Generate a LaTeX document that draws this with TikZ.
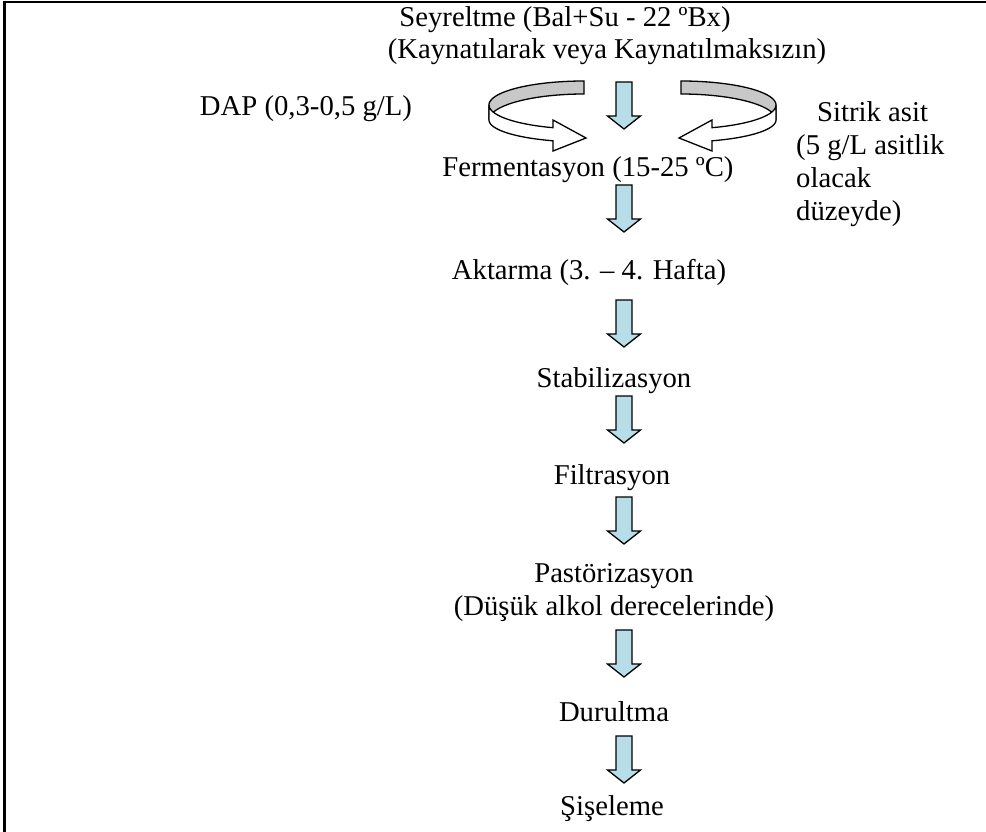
\documentclass[tikz,border=0pt]{standalone}
\usepackage{fontspec}
\setmainfont{Liberation Serif}
\definecolor{arrowblue}{RGB}{183,222,232}
\definecolor{ribbongray}{RGB}{200,200,200}
\tikzset{
  txt/.style={inner sep=0pt, anchor=base, font=\fontsize{28.7}{33}\selectfont},
  txtl/.style={txt, anchor=base west},
  outl/.style={draw=black, line width=1.3pt, line join=miter},
  darr/.pic={\path[outl, fill=arrowblue] (-8,0) -- (8,0) -- (8,34) -- (16.5,34) -- (0,47) -- (-16.5,34) -- (-8,34) -- cycle;}
}
\begin{document}
\begin{tikzpicture}[x=1pt,y=-1pt]
\useasboundingbox (0,0) rectangle (986,832);
% frame
\draw[line width=2.6pt] (3.4,2.2) -- (986,2.2);
\draw[line width=2.6pt] (4.7,0.9) -- (4.7,832);
% texts
\node[txt] (s1) at (565,27) {Seyreltme (Bal+Su - 22 ºBx)};
\node[txt] (s2) at (607,59) {(Kaynatılarak veya Kaynatılmaksızın)};
\node[txt] (dap) at (306,116) {DAP (0,3-0,5 g/L)};
\node[txtl] (sa1) at (817,122) {Sitrik asit};
\node[txtl] (sa2) at (796,155) {(5 g/L asitlik};
\node[txtl] (sa3) at (796,188) {olacak};
\node[txtl] (sa4) at (796,221) {düzeyde)};
\node[txt] (ferm) at (588,177) {Fermentasyon (15-25 ºC)};
\node[txt] (akt) at (589,279) {Aktarma (3. – 4. Hafta)};
\node[txt] (stab) at (614,387) {Stabilizasyon};
\node[txt] (filt) at (612,484) {Filtrasyon};
\node[txt] (past) at (614,582) {Pastörizasyon};
\node[txt] (past2) at (614,615) {(Düşük alkol derecelerinde)};
\node[txt] (durl) at (614,721) {Durultma};
\node[txt] (sise) at (612,815) {Şişeleme};
% down block arrows
\foreach \yy in {82,185,300,396,497,630,736} \pic at (624,\yy) {darr};
% left circular arrow
\path[outl, fill=ribbongray] plot[domain=90:180,samples=40] ({584+95*cos(\x)},{105-24*sin(\x)})
  -- plot[domain=180:90,samples=40] ({584+95*cos(\x)},{120-26*sin(\x)}) -- cycle;
\path[outl, fill=white] plot[domain=180:251,samples=40] ({584+95*cos(\x)},{105-24*sin(\x)})
  -- (553,120) -- (586,138) -- (553,151)
  -- plot[domain=251:180,samples=40] ({584+95*cos(\x)},{120-22*sin(\x)}) -- cycle;
% right circular arrow
\path[outl, fill=ribbongray] plot[domain=90:180,samples=40] ({681-95*cos(\x)},{105-24*sin(\x)})
  -- plot[domain=180:90,samples=40] ({681-95*cos(\x)},{120-26*sin(\x)}) -- cycle;
\path[outl, fill=white] plot[domain=180:251,samples=40] ({681-95*cos(\x)},{105-24*sin(\x)})
  -- (712,120) -- (679,138) -- (712,151)
  -- plot[domain=251:180,samples=40] ({681-95*cos(\x)},{120-22*sin(\x)}) -- cycle;
\end{tikzpicture}
\end{document}
